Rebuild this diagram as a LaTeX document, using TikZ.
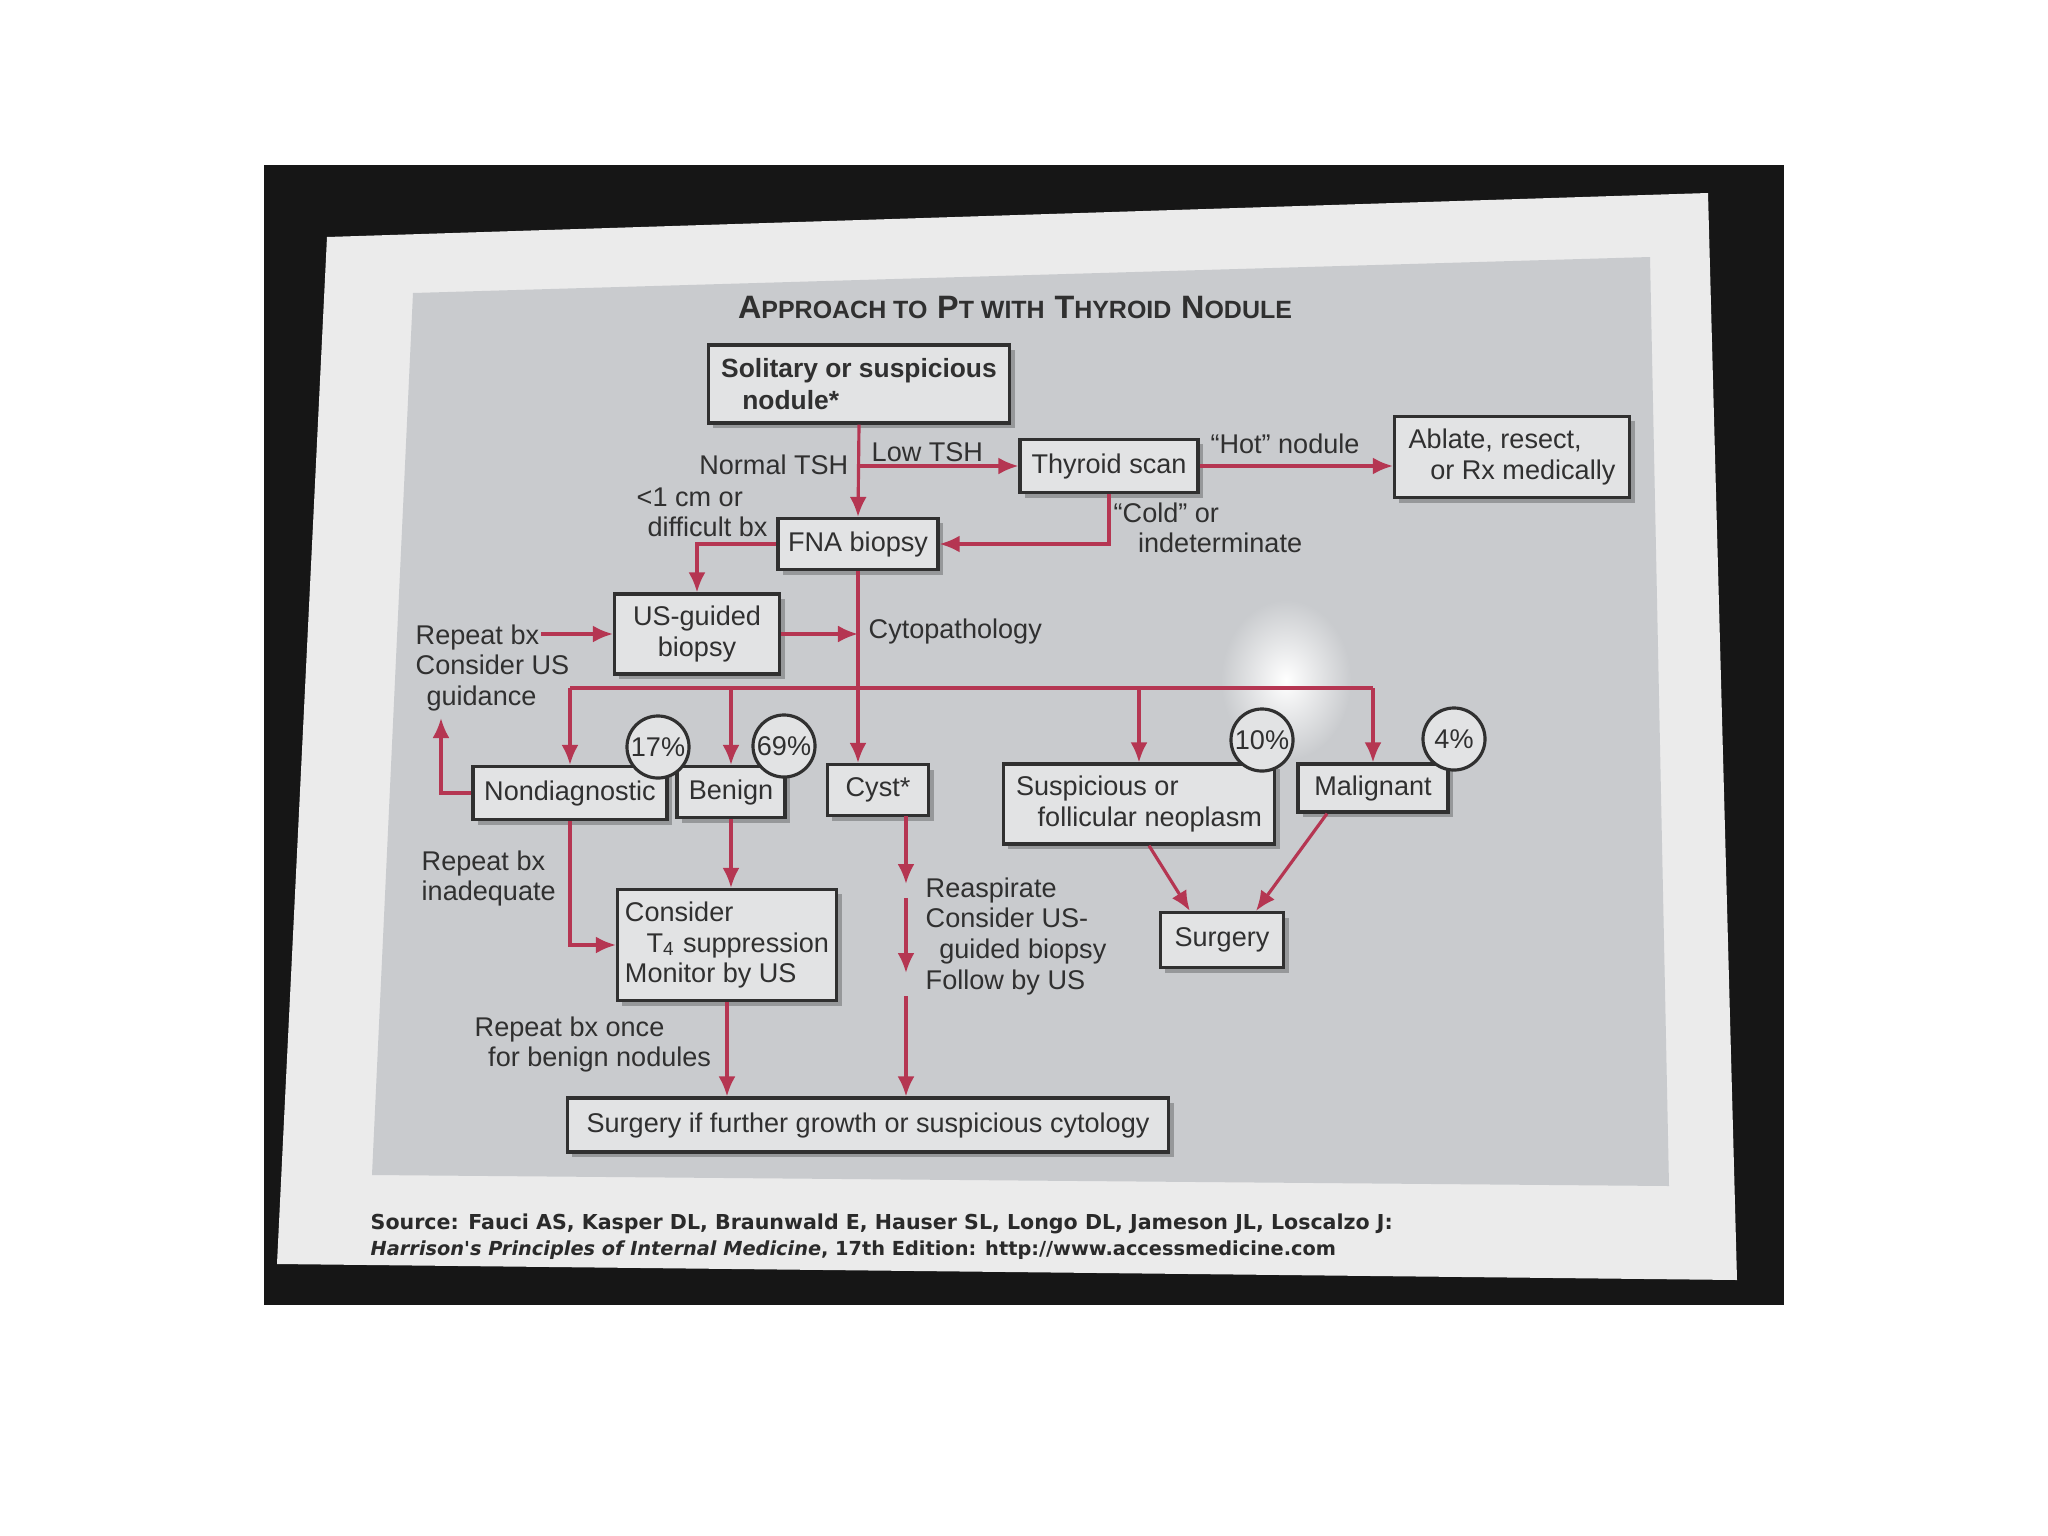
\documentclass[tikz,border=0pt]{standalone}
\usepackage{fontspec}
\setmainfont{Liberation Sans}
\newfontfamily\srcfont{DejaVu Sans}
\usetikzlibrary{arrows.meta,shadows,calc}
\definecolor{frame}{HTML}{161616}
\definecolor{slide}{HTML}{EBEBEB}
\definecolor{panel}{HTML}{C9CBCE}
\definecolor{boxfill}{HTML}{E2E3E4}
\definecolor{ink}{HTML}{303030}
\definecolor{arrowred}{HTML}{B53652}
\definecolor{srcink}{HTML}{2A2A2A}
\newcommand\boxfont{\fontsize{7.7}{8.7}\selectfont}
\newcommand\boldboxfont{\fontsize{7.5}{8.9}\selectfont\bfseries}
\newcommand\bigsc[1]{{\fontsize{9.2}{10}\selectfont #1}}
\newcommand\smallsc[1]{{\fontsize{7.1}{10}\selectfont #1}}
\tikzset{
  box/.style={draw=ink, line width=0.9pt, fill=boxfill, text=ink, inner sep=0pt,
    font=\boxfont, drop shadow={shadow xshift=0.05cm, shadow yshift=-0.05cm, fill=black, opacity=0.25}},
  pct/.style={circle, draw=ink, line width=0.9pt, fill=boxfill, minimum size=0.62cm,
    inner sep=0pt, font=\boxfont, text=ink},
  lbl/.style={text=ink, font=\boxfont, inner sep=0pt, align=left},
  ln/.style={draw=arrowred, line width=0.9pt},
  arr/.style={draw=arrowred, line width=0.9pt, -{Latex[length=0.2cm,width=0.17cm]}},
  srcline/.style={anchor=west, inner sep=0pt, text=srcink}
}
\begin{document}
\begin{tikzpicture}[x=0.01cm,y=-0.01cm]
\useasboundingbox (0,0) rectangle (2048,1536);
\fill[white] (0,0) rectangle (2048,1536);
% photo frame, slide and panel
\fill[frame] (264,165) rectangle (1784,1305);
\fill[slide] (327,237) -- (1708,193) -- (1737,1280) -- (277,1264) -- cycle;
\fill[panel] (413,293) -- (1650,257) -- (1669,1186) -- (372,1175) -- cycle;
\shade[inner color=white, outer color=panel] (1286,680) ellipse (0.65cm and 0.8cm);

% title
\node[text=ink, font=\bfseries, inner sep=0pt] (title) at (1015,307)
  {\bigsc{A}\smallsc{PPROACH TO} \bigsc{P}\smallsc{T WITH} \bigsc{T}\smallsc{HYROID} \bigsc{N}\smallsc{ODULE}};

% boxes
\node[box, font=\boldboxfont, align=left, minimum width=3.01cm, minimum height=0.78cm] (sol) at (859,384)
  {Solitary or suspicious\\\hspace*{0.8em}nodule*};
\node[box, minimum width=1.78cm, minimum height=0.53cm] (scan) at (1109,466) {Thyroid scan};
\node[box, align=left, minimum width=2.35cm, minimum height=0.81cm] (abl) at (1512,457)
  {Ablate, resect,\\\hspace*{0.8em}or Rx medically};
\node[box, minimum width=1.60cm, minimum height=0.51cm] (fna) at (858,544) {FNA biopsy};
\node[box, align=center, minimum width=1.65cm, minimum height=0.80cm] (usg) at (697,634) {US-guided\\biopsy};
\node[box, minimum width=1.94cm, minimum height=0.53cm] (nond) at (570,793) {Nondiagnostic};
\node[box, minimum width=1.08cm, minimum height=0.51cm] (ben) at (731,792) {Benign};
\node[box, minimum width=1.01cm, minimum height=0.51cm] (cyst) at (878,790) {Cyst*};
\node[box, align=left, minimum width=2.71cm, minimum height=0.80cm] (susp) at (1139,804)
  {Suspicious or\\\hspace*{0.8em}follicular neoplasm};
\node[box, minimum width=1.50cm, minimum height=0.48cm] (mal) at (1373,788) {Malignant};
\node[box, align=left, minimum width=2.19cm, minimum height=1.11cm] (t4) at (727,945)
  {Consider\\\hspace*{0.8em}T\textsubscript{4} suppression\\Monitor by US};
\node[box, minimum width=1.23cm, minimum height=0.55cm] (surg) at (1222,940) {Surgery};
\node[box, minimum width=6.01cm, minimum height=0.54cm] (sif) at (868,1125)
  {Surgery if further growth or suspicious cytology};

% percentage circles
\node[pct] (c17) at (658,747) {17\%};
\node[pct] (c69) at (784,746) {69\%};
\node[pct] (c10) at (1262,740) {10\%};
\node[pct] (c4) at (1454,739) {4\%};

% free ends
\coordinate (bus) at (0,688);
\coordinate (repA) at (541,634);
\coordinate (upend) at (441,718);
\coordinate (cy0) at (906,816);
\coordinate (cy1) at (906,884);
\coordinate (cy2) at (906,898);
\coordinate (cy3) at (906,973);
\coordinate (cy4) at (906,996);

% connectors
\draw[arr] (sol.south) -- (fna.north);
\draw[arr] (sol.south |- scan.west) -- (scan.west);
\draw[arr] (scan.east) -- (scan.east -| abl.west);
\draw[arr] (scan.south) |- (fna.east);
\draw[arr] (fna.west) -| (usg.north);
\draw[arr] (usg.east) -- (usg.east -| fna.south);
\draw[arr] (repA) -- (usg.west);
\draw[arr] (fna.south) -- (fna.south |- cyst.north);
\draw[ln] (nond.north |- bus) -- (mal.north |- bus);
\draw[arr] (nond.north |- bus) -- (nond.north);
\draw[arr] (ben.north |- bus) -- (ben.north);
\draw[arr] (susp.north |- bus) -- (susp.north);
\draw[arr] (mal.north |- bus) -- (mal.north);
\draw[arr] (nond.west) -| (upend);
\draw[arr] (nond.south) |- (t4.west);
\draw[arr] (ben.south) -- (ben.south |- t4.north);
\draw[arr] (cy0) -- (cy1);
\draw[arr] (cy2) -- (cy3);
\draw[arr] (cy4) -- (cy4 |- sif.north);
\draw[arr] (t4.south) -- (t4.south |- sif.north);
\draw[arr] ($(susp.south)+(10,0)$) -- ($(surg.north west)+(31,0)$);
\draw[arr] ($(mal.south)+(-46,0)$) -- ($(surg.north)+(34,0)$);

% labels
\node[lbl, anchor=east] (lnorm) at (849,465) {Normal TSH};
\node[lbl, anchor=west] (llow) at (871,452) {Low TSH};
\node[lbl] (lhot) at (1285,444) {“Hot” nodule};
\node[lbl, anchor=north west] (lcold) at (1113,502) {“Cold” or\\\hspace*{0.9em}indeterminate};
\node[lbl, anchor=north west] (lsmall) at (636,487) {<1 cm or\\\hspace*{0.4em}difficult bx};
\node[lbl, anchor=west] (lcyto) at (868,631) {Cytopathology};
\node[lbl, anchor=north west] (lrep) at (415,624) {Repeat bx\\Consider US\\\hspace*{0.4em}guidance};
\node[lbl, anchor=north west] (linad) at (421,850) {Repeat bx\\inadequate};
\node[lbl, anchor=north west] (lreasp) at (925,877) {Reaspirate\\Consider US-\\\hspace*{0.5em}guided biopsy\\Follow by US};
\node[lbl, anchor=north west] (lonce) at (474,1016) {Repeat bx once\\\hspace*{0.5em}for benign nodules};

% source
\node[srcline, font=\srcfont\fontsize{5.85}{7}\selectfont\bfseries] (src1) at (370,1224)
  {Source: Fauci AS, Kasper DL, Braunwald E, Hauser SL, Longo DL, Jameson JL, Loscalzo J:};
\node[srcline, font=\srcfont\fontsize{5.5}{7}\selectfont\bfseries] (src2) at (370,1250)
  {\textit{Harrison's Principles of Internal Medicine}, 17th Edition: http://www.accessmedicine.com};
\end{tikzpicture}
\end{document}
